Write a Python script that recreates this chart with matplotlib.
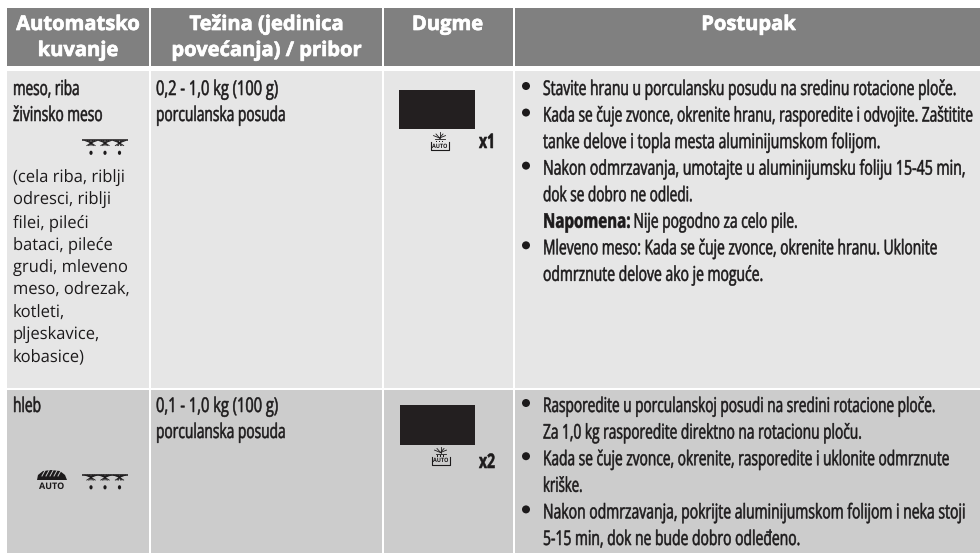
import matplotlib
matplotlib.use("Agg")
import matplotlib.pyplot as plt
from matplotlib.patches import Rectangle, Ellipse, Polygon
from matplotlib.patheffects import AbstractPathEffect, withStroke
from matplotlib.text import Text
from matplotlib.transforms import Affine2D

plt.rcParams["text.hinting"] = "none"
WIDE = ["Open Sans", "Noto Sans", "DejaVu Sans"]
INK = "#1c1a1b"

headers = [["Automatsko", "kuvanje"], ["Težina (jedinica", "povećanja) / pribor"], ["Dugme"], ["Postupak"]]
row1_name = ["meso, riba", "živinsko meso"]
row1_detail = ["(cela riba, riblji", "odresci, riblji", "filei, pileći", "bataci, pileće", "grudi, mleveno",
               "meso, odrezak,", "kotleti,", "pljeskavice,", "kobasice)"]
row1_weight = ["0,2 - 1,0 kg (100 g)", "porculanska posuda"]
row1_steps = [(True, "Stavite hranu u porculansku posudu na sredinu rotacione ploče."),
              (True, "Kada se čuje zvonce, okrenite hranu, rasporedite i odvojite. Zaštitite"),
              (False, "tanke delove i topla mesta aluminijumskom folijom."),
              (True, "Nakon odmrzavanja, umotajte u aluminijumsku foliju 15-45 min,"),
              (False, "dok se dobro ne odledi."),
              (False, None),
              (True, "Mleveno meso: Kada se čuje zvonce, okrenite hranu. Uklonite"),
              (False, "odmrznute delove ako je moguće.")]
note_label = "Napomena:"
note_text = "Nije pogodno za celo pile."
row2_name = ["hleb"]
row2_weight = ["0,1 - 1,0 kg (100 g)", "porculanska posuda"]
row2_steps = [(True, "Rasporedite u porculanskoj posudi na sredini rotacione ploče."),
              (False, "Za 1,0 kg rasporedite direktno na rotacionu ploču."),
              (True, "Kada se čuje zvonce, okrenite, rasporedite i uklonite odmrznute"),
              (False, "kriške."),
              (True, "Nakon odmrzavanja, pokrijte aluminijumskom folijom i neka stoji"),
              (False, "5-15 min, dok ne bude dobro odleđeno.")]
row1_press = "x1"
row2_press = "x2"
auto_label = "AUTO"

# right edges of the condensed lines, in pixels
row1_step_ends = [956, 972.5, 880, 965, 692.5, None, 937, 763]
row2_step_ends = [935, 861.5, 949, 582.5, 965, 800]
row1_name_ends = [79.5, 102.5]
row1_weight_ends = [278, 285.5]
row2_weight_ends = [278, 285.5]


class TallGlyphs(AbstractPathEffect):
    """Stretches glyph outlines upward from the baseline: a small font made tall reads as condensed."""
    def __init__(self, sy):
        super().__init__()
        self.sy = sy

    def draw_path(self, renderer, gc, tpath, affine, rgbFace=None):
        gc2 = renderer.new_gc()
        gc2.copy_properties(gc)
        gc2.set_linewidth(0.4)
        gc2.set_foreground(rgbFace)
        renderer.draw_path(gc2, tpath, Affine2D().scale(1, self.sy) + affine, rgbFace)
        gc2.restore()


fig = plt.figure(figsize=(9.8, 5.53), dpi=100, facecolor="white")
ax = fig.add_axes([0, 0, 1, 1])
ax.set_xlim(0, 980)
ax.set_ylim(553, 0)
ax.axis("off")

cols = [(7, 149), (151, 382), (384, 513), (515, 980)]
bands = [(8, 65.5, "#808080"), (71, 388, "#e6e6e6"), (389.5, 553, "#cccccc")]
for y0, y1, c in bands:
    for x0, x1 in cols:
        ax.add_patch(Rectangle((x0, y0), x1 - x0, y1 - y0, fc=c, ec="none"))

# header
hdr_fs = 14.5
for (x0, x1), lines in zip(cols, headers):
    for i, t in enumerate(lines):
        ax.text((x0 + x1) / 2 + (1 if x0 == 515 else 0) - (1 if x0 == 384 else 0), 30 + i * 26, t, color="white",
                fontsize=hdr_fs, fontweight="bold", family=WIDE, ha="center", va="baseline",
                path_effects=[withStroke(linewidth=0.5, foreground="white")])

BODY = 14.6
renderer = fig.canvas.get_renderer()


def body(x, y, t, end, size=BODY, **kw):
    probe = Text(0, 0, t, fontsize=size, family=WIDE, figure=fig, **kw)
    sx = (end - x) / probe.get_window_extent(renderer).width
    ax.text(x, y, t, color=INK, family=WIDE, va="baseline", ha="left", fontsize=size * sx,
            path_effects=[TallGlyphs(1 / sx)], **kw)


def steps(items, ends, y0, dy):
    for i, ((bul, t), end) in enumerate(zip(items, ends)):
        y = y0 + i * dy
        if bul:
            ax.add_patch(Ellipse((526, y - 9), 8, 8, fc=INK, ec="none"))
        if t:
            body(543, y, t, end)


for i, (t, e) in enumerate(zip(row1_name, row1_name_ends)):
    body(13, 95 + i * 26, t, e)
for i, t in enumerate(row1_detail):
    ax.text(13, 183 + i * 22.4, t, color=INK, family=WIDE, fontsize=11.9, va="baseline", ha="left")
for i, (t, e) in enumerate(zip(row1_weight, row1_weight_ends)):
    body(156, 95 + i * 26, t, e)
steps(row1_steps, row1_step_ends, 95, 26.55)
body(543, 95 + 5 * 26.55, note_label, 630.5, fontweight="bold")
body(633.5, 95 + 5 * 26.55, note_text, 797.5)

body(13, 412, row2_name[0], 41)
for i, (t, e) in enumerate(zip(row2_weight, row2_weight_ends)):
    body(156, 412 + i * 26, t, e)
steps(row2_steps, row2_step_ends, 412, 26.6)


def frost(y):
    ax.plot([82, 128], [y, y], color=INK, lw=1.1, solid_capstyle="butt")
    for x in (91, 105, 119.5):
        for dx in (-6, -3.5, -1.5, 1.5, 3.5, 6):
            ax.plot([x, x + dx], [y + 2.8, y + 0.6], color=INK, lw=0.7)
            ax.plot([x, x + dx * 0.7], [y + 2.8, y + 5.6], color=INK, lw=0.6)
        ax.add_patch(Ellipse((x, y + 12.8), 3.2, 4.2, fc=INK, ec="none"))


def button(x, y, press, bx0, bx1, by0, by1, tx, ty):
    ax.add_patch(Rectangle((bx0, by0), bx1 - bx0, by1 - by0, fc="#231f20", ec="none"))
    for dx, dy in ((0, -7), (-3.5, -5), (3.5, -5), (-6, -3), (6, -3)):
        ax.plot([x, x + dx], [y - 1, y - 1 + dy * 0.8], color=INK, lw=0.6)
    ax.plot([x - 5, x + 5], [y, y], color=INK, lw=0.6)
    for dx in (-3, 0, 3):
        ax.add_patch(Rectangle((x + dx - 0.8, y + 1.5), 1.6, 1.6, fc=INK, ec="none"))
    ax.text(x, y + 8.5, auto_label, color=INK, family=WIDE, fontsize=4, fontweight="bold", ha="center", va="baseline")
    ax.plot([x - 9, x - 9, x + 9, x + 9], [y + 3, y + 11, y + 11, y + 3], color=INK, lw=0.8)
    body(tx, ty, press, tx + 16, size=14.5, fontweight="bold")


frost(140)
button(439.5, 139, row1_press, 399, 475, 90, 129, 479, 148)
frost(474.5)
button(440.5, 453.5, row2_press, 400, 475, 405, 444.5, 479, 468)

# bread glyph
ax.add_patch(Polygon([(37, 480), (38, 475), (43, 471), (51, 470), (60, 471), (65, 475), (67, 480)], fc=INK, ec="none"))
for dx in (44, 48, 52, 56, 60):
    ax.plot([dx - 2, dx + 1], [476, 470.5], color="#cccccc", lw=0.7)
ax.text(51.5, 489, auto_label, color=INK, family=WIDE, fontsize=6.5, fontweight="bold", ha="center", va="baseline")

fig.savefig("out.png", dpi=100, facecolor="white")
